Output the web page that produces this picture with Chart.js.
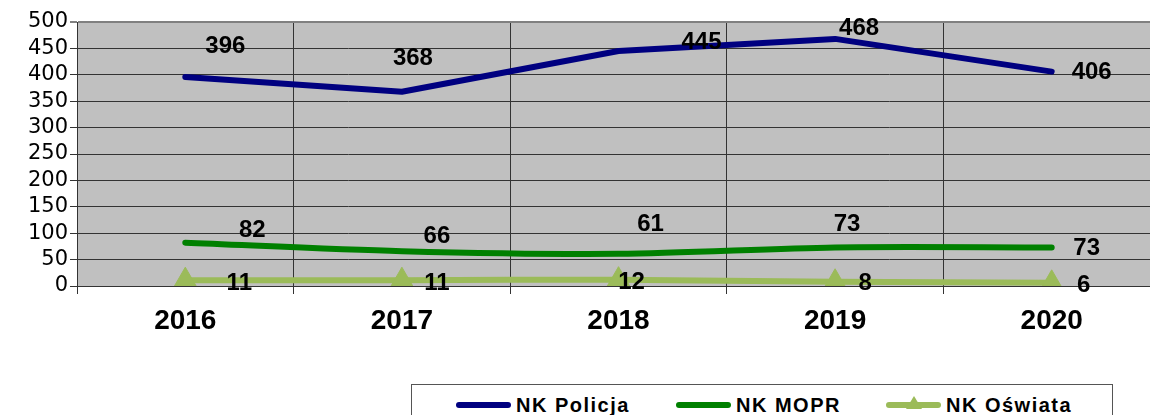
<!DOCTYPE html>
<html>
<head>
<meta charset="utf-8">
<script src="https://cdn.jsdelivr.net/npm/chart.js@4.4.1/dist/chart.umd.min.js"></script>
<style>
  html, body { margin: 0; padding: 0; background: #fff; overflow: hidden; width: 1150px; height: 415px; }
  #wrap { position: absolute; left: 0; top: 0; width: 1174px; height: 415px; }
  #legend { position: absolute; left: 411px; top: 384px; width: 702px; height: 40px; border: 1px solid #555; background: #fff; box-sizing: border-box; }
  .item { position: absolute; top: 8px; height: 24px; font: bold 20px "Liberation Sans", Arial, sans-serif; letter-spacing: 1.5px; color: #000; line-height: 24px; }
  .sw { position: absolute; top: 9px; width: 55px; height: 6px; border-radius: 3px; }
  .txt { position: absolute; left: 60px; top: 0; white-space: nowrap; }
  .tri { position: absolute; left: 20px; top: 3px; width: 0; height: 0; border-left: 8px solid transparent; border-right: 8px solid transparent; border-bottom: 13px solid #9bbb59; }
</style>
</head>
<body>
<div id="wrap"><canvas id="c" width="1174" height="415"></canvas></div>
<div id="legend"></div>
<script>
const categories = ['2016', '2017', '2018', '2019', '2020'];
const policja = [396, 368, 445, 468, 406];
const mopr = [82, 66, 61, 73, 73];
const oswiata = [11, 11, 12, 8, 6];
const yTicks = [0, 50, 100, 150, 200, 250, 300, 350, 400, 450, 500];
const seriesNames = ['NK Policja', 'NK MOPR', 'NK Oświata'];
const seriesColors = ['#000080', '#008000', '#9bbb59'];

// label offsets in pixels (styling only)
const labelOffsets = [
  [[40, -31], [11, -33], [83, -9], [24, -11], [40, 1]],
  [[67, -12], [35, -15], [32, -29], [12, -23], [35, 1]],
  [[54, 3], [35, 3], [13, 3], [30, 2], [32, 3]]
];

const bgPlugin = {
  id: 'plotBg',
  beforeDraw(chart) {
    const { ctx, chartArea: a } = chart;
    ctx.save();
    ctx.fillStyle = '#c0c0c0';
    ctx.fillRect(a.left, a.top, a.right - a.left, a.bottom - a.top);
    ctx.restore();
  }
};

const labelPlugin = {
  id: 'pointLabels',
  afterDatasetsDraw(chart) {
    const { ctx } = chart;
    ctx.save();
    ctx.font = 'bold 24px "Liberation Sans", Arial, sans-serif';
    ctx.fillStyle = '#000';
    ctx.textAlign = 'center';
    ctx.textBaseline = 'middle';
    chart.data.datasets.forEach((ds, di) => {
      const meta = chart.getDatasetMeta(di);
      meta.data.forEach((pt, i) => {
        const off = labelOffsets[di][i];
        ctx.fillText(String(ds.data[i]), pt.x + off[0], pt.y + off[1]);
      });
    });
    ctx.restore();
  }
};

new Chart(document.getElementById('c'), {
  type: 'line',
  data: {
    labels: categories,
    datasets: [
      { label: seriesNames[0], data: policja, borderColor: seriesColors[0], backgroundColor: seriesColors[0], borderWidth: 6, pointRadius: 0, tension: 0, borderCapStyle: 'round', borderJoinStyle: 'round' },
      { label: seriesNames[1], data: mopr, borderColor: seriesColors[1], backgroundColor: seriesColors[1], borderWidth: 6, pointRadius: 0, tension: 0.3, borderCapStyle: 'round', borderJoinStyle: 'round' },
      { label: seriesNames[2], data: oswiata, borderColor: seriesColors[2], backgroundColor: seriesColors[2], pointBackgroundColor: seriesColors[2], pointBorderColor: seriesColors[2], borderWidth: 6, pointStyle: 'triangle', pointRadius: 13, pointBorderWidth: 1, tension: 0.2, borderCapStyle: 'round' }
    ]
  },
  options: {
    responsive: false,
    animation: false,
    layout: { padding: { top: 22, right: 2, left: 0, bottom: 0 } },
    plugins: { legend: { display: false }, tooltip: { enabled: false } },
    scales: {
      x: {
        offset: true,
        grid: { offset: true, color: '#333', lineWidth: 1, tickLength: 8, drawTicks: true },
        border: { color: '#333', width: 1 },
        ticks: { color: '#000', font: { family: '"Liberation Sans", Arial, sans-serif', size: 28, weight: 'bold' }, padding: 10, maxRotation: 0 },
        afterFit(scale) { scale.height = 129; }
      },
      y: {
        min: 0, max: 500,
        afterBuildTicks(scale) { scale.ticks = yTicks.map(v => ({ value: v })); },
        grid: {
          color: ctx => (ctx.tick && ctx.tick.value === 500 ? '#808080' : '#333'),
          lineWidth: ctx => (ctx.tick && ctx.tick.value === 500 ? 2 : 1),
          tickLength: 7
        },
        border: { color: '#333', width: 1 },
        ticks: { color: '#000', autoSkip: false, font: { family: '"DejaVu Sans", sans-serif', size: 21 }, padding: 2 },
        afterFit(scale) { scale.width = 77; }
      }
    }
  },
  plugins: [bgPlugin, labelPlugin]
});

// HTML legend built from the series arrays
const legend = document.getElementById('legend');
const itemLefts = [44, 264, 474];
seriesNames.forEach((name, i) => {
  const it = document.createElement('div');
  it.className = 'item';
  it.style.left = itemLefts[i] + 'px';
  const sw = document.createElement('div');
  sw.className = 'sw';
  sw.style.background = seriesColors[i];
  it.appendChild(sw);
  if (i === 2) {
    const tri = document.createElement('div');
    tri.className = 'tri';
    it.appendChild(tri);
  }
  const t = document.createElement('span');
  t.className = 'txt';
  t.textContent = name;
  it.appendChild(t);
  legend.appendChild(it);
});
</script>
</body>
</html>
